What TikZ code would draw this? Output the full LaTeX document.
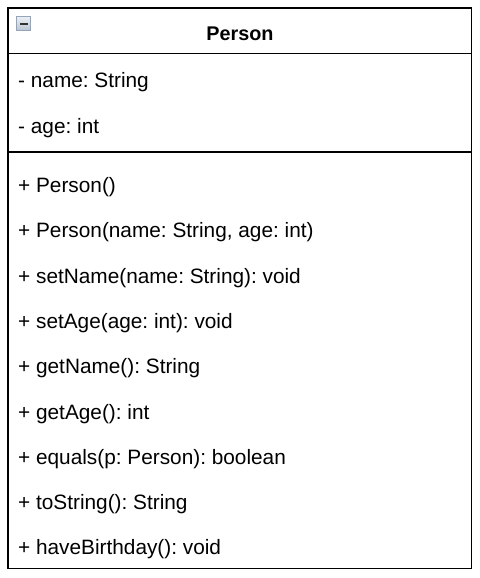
\documentclass[tikz,border=0pt]{standalone}
\usepackage{fontspec}
\setmainfont{Liberation Sans}
\definecolor{icontop}{RGB}{236,240,245}
\definecolor{iconbot}{RGB}{184,196,210}
\definecolor{iconedge}{RGB}{150,165,182}
\begin{document}
\frenchspacing
\begin{tikzpicture}[x=1pt,y=-1pt,
  member/.style={anchor=base west,inner sep=0pt,font=\fontsize{20.8}{24}\selectfont},
  title/.style={anchor=base,inner sep=0pt,font=\fontsize{19.8}{24}\selectfont\bfseries},
  frame/.style={draw=black,line width=1.3pt},
  sepline/.style={draw=black,line width=1.3pt}]
\useasboundingbox (0,0) rectangle (479,578);
\fill[white] (0,0) rectangle (479,578);
% class box
\draw[frame] (8,8) rectangle (471.5,568.5);
\coordinate (hl) at (8,53.5);
\coordinate (hr) at (471.5,53.5);
\coordinate (sl) at (8,152);
\coordinate (sr) at (471.5,152);
\draw[sepline] (hl) -- (hr);
\draw[sepline] (sl) -- (sr);
% collapse icon
\shade[top color=icontop, bottom color=iconbot, draw=iconedge, line width=0.8pt] (16.5,16.5) rectangle (30.5,30.5);
\fill[black!80] (19.5,22.6) rectangle (27.5,24.8);
% title
\node[title] (t) at (240,41) {Person};
% attributes
\node[member] (a1) at (18,87.5) {- name: String};
\node[member] (a2) at (18,133) {- age: int};
% operations
\node[member] (m1) at (18,192.5) {+ Person()};
\node[member] (m2) at (18,237.8) {+ Person(name: String, age: int)};
\node[member] (m3) at (18,283.1) {+ setName(name: String): void};
\node[member] (m4) at (18,328.4) {+ setAge(age: int): void};
\node[member] (m5) at (18,373.7) {+ getName(): String};
\node[member] (m6) at (18,419.0) {+ getAge(): int};
\node[member] (m7) at (18,464.3) {+ equals(p: Person): boolean};
\node[member] (m8) at (18,509.6) {+ toString(): String};
\node[member] (m9) at (18,554.9) {+ haveBirthday(): void};
\end{tikzpicture}
\end{document}
